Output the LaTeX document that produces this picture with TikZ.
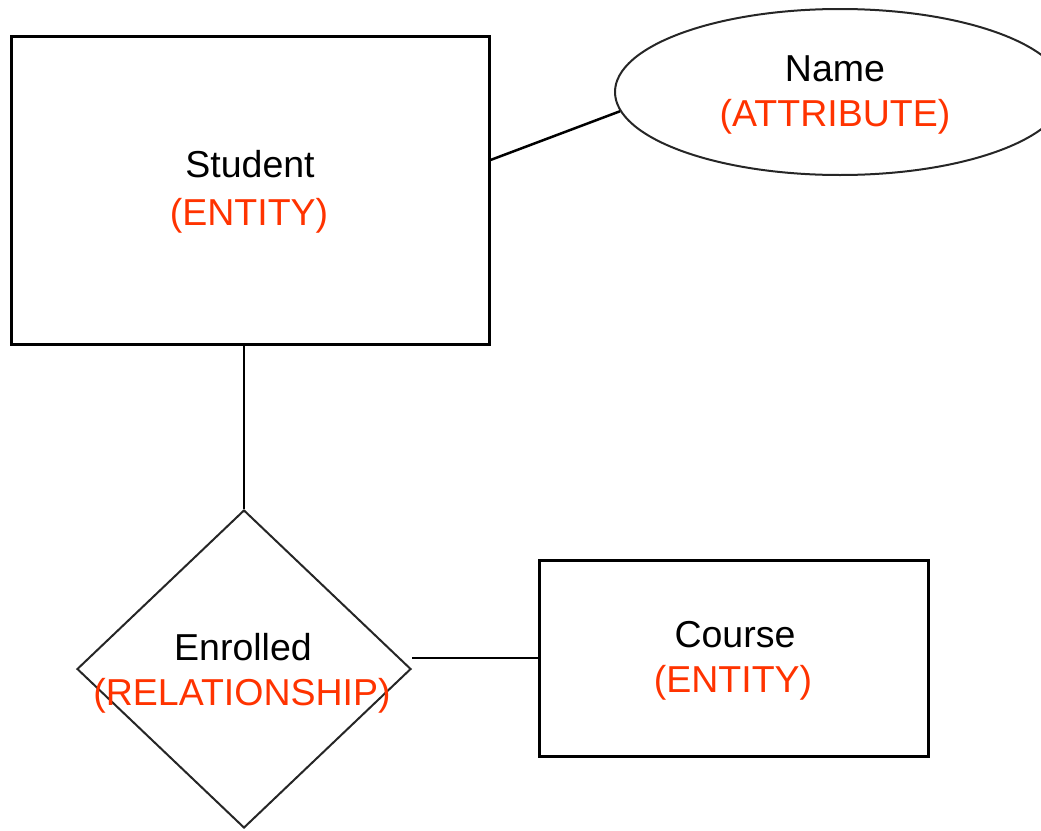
\documentclass[tikz,border=0pt]{standalone}
\usepackage{fontspec}
\setmainfont{Liberation Sans}
\usetikzlibrary{shapes.geometric}
\definecolor{lblred}{RGB}{255,51,0}
\begin{document}
\begin{tikzpicture}[x=1pt,y=-1pt,
  entitybox/.style={draw=black,line width=3pt,rectangle,inner sep=0pt},
  attrshape/.style={draw=black!85,line width=2pt,ellipse,inner sep=0pt},
  relshape/.style={draw=black!85,line width=2pt,diamond,inner sep=0pt},
  conn/.style={draw=black,line width=2.5pt},
  title/.style={font=\fontsize{37.5}{44}\selectfont,text=black,anchor=base,inner sep=0pt},
  kind/.style={font=\fontsize{37.5}{44}\selectfont,text=lblred,anchor=base,inner sep=0pt}]
\useasboundingbox (0,0) rectangle (1041,830);
\node[entitybox,minimum width=478pt,minimum height=308pt] (st) at (250,190) {};
\node[attrshape,minimum width=450pt,minimum height=166pt] (nm) at (840,92) {};
\node[relshape,minimum width=334pt,minimum height=318pt] (en) at (244,669) {};
\node[entitybox,minimum width=389pt,minimum height=196pt] (co) at (734,658) {};
\node[title] (stt) at (250,177) {Student};
\node[kind] (stk) at (249,225) {(ENTITY)};
\node[title] (nmt) at (835,81) {Name};
\node[kind] (nmk) at (835,126) {(ATTRIBUTE)};
\node[title] (ent) at (243,660) {Enrolled};
\node[kind] (enk) at (242,705) {(RELATIONSHIP)};
\node[title] (cot) at (735,647) {Course};
\node[kind] (cok) at (733,692) {(ENTITY)};
\draw[conn] (st.east |- 0,160) -- (nm.185.5);
\draw[conn] (st.south -| en.north) -- (en.north);
\draw[conn] (co.west) -- (co.west -| en.east);
\end{tikzpicture}
\end{document}
